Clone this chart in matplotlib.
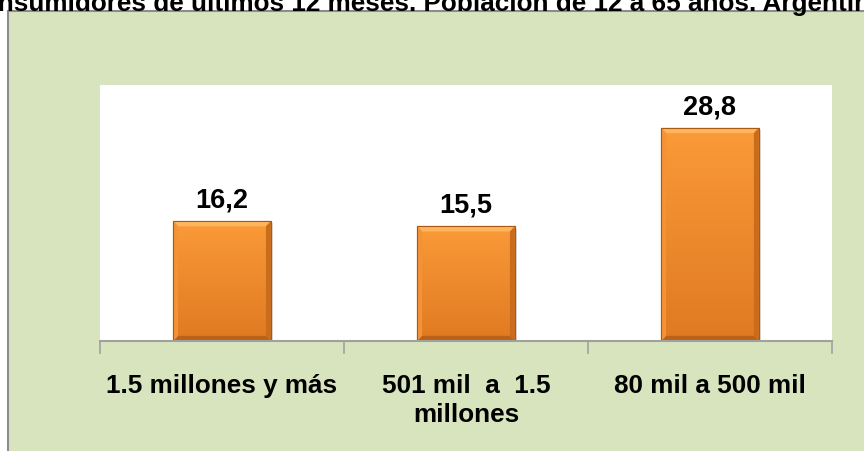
import matplotlib.pyplot as plt
import numpy as np
from matplotlib.patches import Rectangle, Polygon
from matplotlib.colors import LinearSegmentedColormap

plt.rcParams['font.family'] = ['Liberation Sans', 'DejaVu Sans']

# data
categorias = ['1.5 millones y más', '501 mil  a  1.5\nmillones', '80 mil a 500 mil']
valores = [16.2, 15.5, 28.8]
etiquetas = ['16,2', '15,5', '28,8']
titulo = 'Consumidores de últimos 12 meses. Población de 12 a 65 años. Argentina'

fig = plt.figure(figsize=(8.64, 4.52), dpi=100)
fig.patch.set_facecolor('white')

# green chart-area background (cut off at right and bottom)
fondo = Rectangle((8 / 864, -0.1), 1.2, (452 - 12) / 452 + 0.1,
                  transform=fig.transFigure, facecolor='#D7E4BD',
                  edgecolor='#8C8C8C', linewidth=1.5, zorder=-5)
fig.patches.append(fondo)

fig.text(0.49, 1 - 11 / 452, titulo, ha='center', va='baseline',
         fontsize=18.8, fontweight='bold', color='black', zorder=-4)

ax = fig.add_axes([100 / 864, (452 - 342) / 452, (832 - 100) / 864, (342 - 86) / 452])
ax.set_facecolor('white')

x = np.arange(len(valores))
ancho = 0.4
barras = ax.bar(x, valores, width=ancho, color='#F7922E', edgecolor='#A85A14',
                linewidth=0.8, zorder=3)

cmap = LinearSegmentedColormap.from_list('nar', ['#E07A22', '#FA9A38'])
grad = np.linspace(0, 1, 100).reshape(-1, 1)
bx = 0.02   # bevel in x (data units)
by = 0.7    # bevel in y (data units)
for b in barras:
    x0, w, h = b.get_x(), b.get_width(), b.get_height()
    x1 = x0 + w
    # soft shadow
    ax.add_patch(Rectangle((x0 + 0.008, -0.3), w, h, facecolor='#000000',
                           alpha=0.12, linewidth=0, zorder=2))
    im = ax.imshow(grad, cmap=cmap, aspect='auto', origin='lower',
                   extent=(x0, x1, 0, h), zorder=3.1)
    im.set_clip_path(b)
    # bevels
    ax.add_patch(Polygon([(x0, h), (x1, h), (x1 - bx, h - by), (x0 + bx, h - by)],
                         facecolor='#FFB45E', linewidth=0, zorder=3.2))
    ax.add_patch(Polygon([(x1, h), (x1, 0), (x1 - bx, by), (x1 - bx, h - by)],
                         facecolor='#C96C1C', linewidth=0, zorder=3.2))
    ax.add_patch(Polygon([(x0, 0), (x1, 0), (x1 - bx, by), (x0 + bx, by)],
                         facecolor='#B8621A', linewidth=0, zorder=3.2))
    ax.add_patch(Polygon([(x0, 0), (x0, h), (x0 + bx, h - by), (x0 + bx, by)],
                         facecolor='#F59236', linewidth=0, zorder=3.2))
    ax.add_patch(Rectangle((x0, 0), w, h, facecolor='none', edgecolor='#A85A14',
                           linewidth=0.8, zorder=3.3))

for xi, v, t in zip(x, valores, etiquetas):
    ax.text(xi, v + 2.0, t, ha='center', va='baseline', fontsize=19.5,
            fontweight='bold', color='black', zorder=5)

ax.set_xlim(-0.5, len(valores) - 0.5)
ax.set_ylim(0, 34.6)
ax.set_yticks([])
ax.set_xticks(x)
ax.set_xticklabels(categorias, fontsize=18.8, fontweight='bold', linespacing=1.28)
ax.set_xticks(np.arange(-0.5, len(valores)), minor=True)
ax.tick_params(axis='x', which='major', length=0, pad=23)
ax.tick_params(axis='x', which='minor', length=9, width=1.2, color='#A0A0A0', direction='out')
for s in ['top', 'left', 'right']:
    ax.spines[s].set_visible(False)
ax.spines['bottom'].set_color('#A0A0A0')
ax.spines['bottom'].set_linewidth(1.5)
ax.spines['bottom'].set_zorder(4)

fig.savefig('out.png', dpi=100, facecolor=fig.get_facecolor())
